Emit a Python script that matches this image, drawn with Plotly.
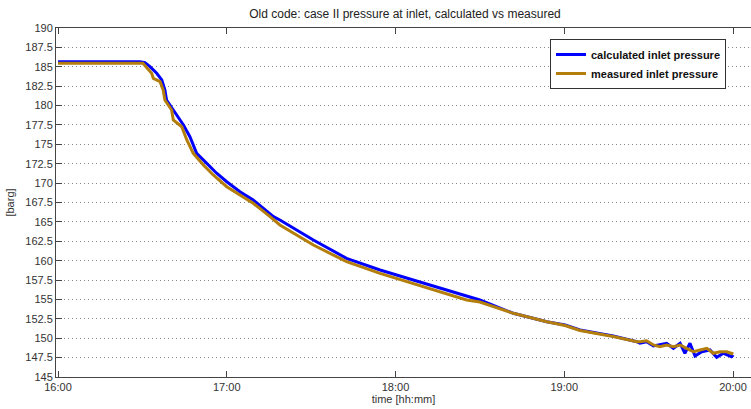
import pandas as pd
import plotly.graph_objects as go

# minutes after 16:00 and pressure [barg]
calc_minutes = [0, 29.2, 30.9, 32.7, 35.1, 36.9, 38.0, 38.6, 41.0, 44.6, 46.9, 49.3, 52.9, 56.4,
                60.0, 64.7, 69.4, 76.6, 78.9, 90.8, 102.6, 114.5, 126.3, 138.2, 150.0, 161.9,
                173.8, 180.3, 185.6, 197.4, 205.8, 206.9, 209.3, 211.7, 216.4, 218.8, 221.2,
                222.9, 224.7, 226.5, 228.9, 231.8, 234.2, 236.6, 239.5, 240.1]
calc_pressure = [185.65, 185.65, 185.53, 185.01, 184.16, 183.30, 182.01, 180.72, 179.43, 177.49,
                 175.98, 173.84, 172.55, 171.27, 170.18, 168.89, 167.82, 165.67, 165.24, 162.66,
                 160.30, 158.80, 157.51, 156.22, 154.93, 153.21, 152.13, 151.70, 151.06, 150.29,
                 149.55, 149.35, 149.55, 149.00, 149.35, 148.70, 149.35, 148.06, 149.35, 147.71,
                 148.26, 148.48, 147.54, 148.06, 147.62, 147.84]

meas_minutes = [0, 30.2, 33.3, 33.9, 36.3, 37.4, 38.0, 40.4, 41.0, 44.0, 45.8, 48.1, 51.7, 55.2,
                60.0, 64.7, 69.4, 75.4, 78.9, 90.8, 102.6, 114.5, 126.3, 138.2, 145.3, 150.0,
                161.9, 173.8, 180.3, 185.6, 197.4, 205.8, 206.9, 209.3, 211.7, 214.0, 216.4,
                218.8, 221.2, 223.5, 225.9, 228.3, 230.7, 233.0, 235.4, 237.8, 240.1]
meas_pressure = [185.46, 185.45, 184.16, 183.51, 183.08, 182.01, 180.72, 179.43, 178.14, 177.27,
                 175.56, 173.84, 172.34, 171.05, 169.54, 168.47, 167.40, 165.67, 164.60, 162.02,
                 159.87, 158.37, 157.08, 155.79, 154.93, 154.67, 153.21, 152.13, 151.64, 151.00,
                 150.22, 149.55, 149.55, 149.68, 149.13, 148.91, 149.13, 148.91, 149.13, 148.70,
                 148.26, 148.48, 148.70, 148.06, 148.26, 148.26, 147.97]

y_ticks = [145 + 2.5 * i for i in range(19)]
x_tick_labels = ["16:00", "17:00", "18:00", "19:00", "20:00"]

base = pd.Timestamp("2000-01-01 16:00")
calc_t = [base + pd.Timedelta(minutes=m) for m in calc_minutes]
meas_t = [base + pd.Timedelta(minutes=m) for m in meas_minutes]
x_tick_vals = [base + pd.Timedelta(hours=h) for h in range(5)]

FONT = "Liberation Sans, Arial, sans-serif"

fig = go.Figure()
fig.add_trace(go.Scatter(x=calc_t, y=calc_pressure, mode="lines", name="calculated inlet pressure",
                         line=dict(color="#0000ff", width=3)))
fig.add_trace(go.Scatter(x=meas_t, y=meas_pressure, mode="lines", name="measured inlet pressure",
                         line=dict(color="#b47e0c", width=3)))

W, H = 751, 409
ml, mt, mb, mr = 56, 28, 32, 0
pw = W - ml - mr
ph = H - mt - mb

fig.update_layout(
    width=W, height=H,
    margin=dict(l=ml, r=mr, t=mt, b=mb, pad=0),
    paper_bgcolor="white", plot_bgcolor="white",
    font=dict(family=FONT, size=11, color="#333333"),
    title=dict(text="Old code: case II pressure at inlet, calculated vs measured",
               x=(405) / W, xanchor="center", y=1 - 14 / H, yanchor="middle",
               font=dict(size=12, color="#222222")),
    showlegend=True,
    legend=dict(x=(550 - ml) / pw, xanchor="left", y=1 - (39 - mt) / ph, yanchor="top",
                bgcolor="white", bordercolor="#333333", borderwidth=1,
                font=dict(size=11, color="#111111", weight="bold"),
                tracegroupgap=2, itemwidth=30),
    xaxis=dict(
        type="date",
        range=[base - pd.Timedelta(minutes=0.71), base + pd.Timedelta(minutes=246.4)],
        tickvals=x_tick_vals, ticktext=x_tick_labels,
        ticks="inside", ticklen=6, tickcolor="#444444",
        showline=True, linecolor="#444444", linewidth=1, mirror="ticks",
        showgrid=False, zeroline=False,
        title=dict(text="time [hh:mm]", standoff=2, font=dict(size=11)),
        tickfont=dict(size=11),
    ),
    yaxis=dict(
        range=[145, 190],
        tickvals=y_ticks,
        ticks="inside", ticklen=6, tickcolor="#444444",
        showline=True, linecolor="#444444", linewidth=1,
        showgrid=True, gridcolor="#888888", griddash="1px,3px", gridwidth=1,
        zeroline=False,
        title=dict(text="[barg]", standoff=8, font=dict(size=11)),
        tickfont=dict(size=11),
    ),
)

fig.write_html("out.html")
